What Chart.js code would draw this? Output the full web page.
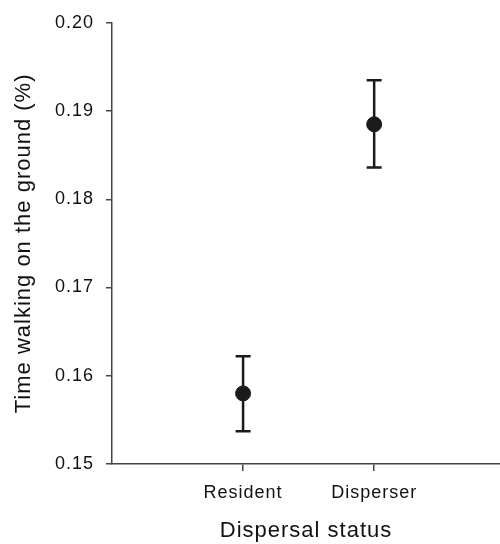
<!DOCTYPE html>
<html>
<head>
<meta charset="utf-8">
<script src="https://cdn.jsdelivr.net/npm/chart.js@4"></script>
<style>
  html, body { margin: 0; padding: 0; background: #fff; }
  #wrap { width: 500px; height: 544px; }
</style>
</head>
<body>
<div id="wrap"><canvas id="walkChart"></canvas></div>
<script>
const categories = ['Resident', 'Disperser'];
const means = [0.158, 0.1885];
const upperErr = [0.1622, 0.1935];
const lowerErr = [0.1537, 0.1836];
const yTicks = [0.15, 0.16, 0.17, 0.18, 0.19, 0.20];

const ink = '#1a1a1a';
const textInk = '#111';

// draw the error bars with caps using the chart scales
const errorBars = {
    id: 'errorBars',
    beforeDatasetsDraw(chart) {
        const { ctx, scales: { x, y } } = chart;
        ctx.save();
        ctx.strokeStyle = ink;
        ctx.lineWidth = 2.5;
        categories.forEach((cat, i) => {
            const px = x.getPixelForValue(i + 1);
            const top = y.getPixelForValue(upperErr[i]);
            const bot = y.getPixelForValue(lowerErr[i]);
            ctx.beginPath();
            ctx.moveTo(px, top);
            ctx.lineTo(px, bot);
            ctx.moveTo(px - 7.5, top);
            ctx.lineTo(px + 7.5, top);
            ctx.moveTo(px - 7.5, bot);
            ctx.lineTo(px + 7.5, bot);
            ctx.stroke();
        });
        ctx.restore();
    }
};

// the reference text is set a little wide
const spacing = {
    id: 'spacing',
    beforeInit(chart) { chart.ctx.letterSpacing = '1px'; },
    beforeDraw(chart) { chart.ctx.letterSpacing = '1px'; }
};

const ctx = document.getElementById('walkChart').getContext('2d');

new Chart(ctx, {
    type: 'scatter',
    data: {
        datasets: [{
            data: means.map((m, i) => ({ x: i + 1, y: m })),
            backgroundColor: ink,
            borderColor: ink,
            pointRadius: 7.5,
            pointHoverRadius: 7.5
        }]
    },
    options: {
        responsive: true,
        maintainAspectRatio: false,
        animation: false,
        layout: { autoPadding: false, padding: { top: 18, right: 0, bottom: 0, left: 0 } },
        scales: {
            x: {
                type: 'linear',
                min: 0,
                max: 2.96,
                afterBuildTicks: (scale) => { scale.ticks = categories.map((c, i) => ({ value: i + 1 })); },
                afterFit: (scale) => { scale.height = 80; },
                border: { color: '#444', width: 1.5 },
                grid: { drawOnChartArea: false, tickLength: 7, color: '#444', lineWidth: 1.5 },
                ticks: {
                    padding: 11,
                    color: textInk,
                    font: { family: 'Liberation Sans', size: 18 },
                    callback: (v) => categories[v - 1] || ''
                },
                title: {
                    display: true,
                    text: 'Dispersal status',
                    color: textInk,
                    font: { family: 'Liberation Sans', size: 22 },
                    padding: { top: 0, bottom: 0 }
                }
            },
            y: {
                min: 0.15,
                max: 0.20,
                afterBuildTicks: (scale) => { scale.ticks = yTicks.map(v => ({ value: v })); },
                afterFit: (scale) => { scale.width = 112; },
                border: { color: '#444', width: 1.5 },
                grid: { drawOnChartArea: false, tickLength: 6, color: '#444', lineWidth: 1.5 },
                ticks: {
                    padding: 12,
                    color: textInk,
                    font: { family: 'Liberation Sans', size: 18 },
                    callback: (v) => v.toFixed(2)
                },
                title: {
                    display: true,
                    text: 'Time walking on the ground (%)',
                    color: textInk,
                    font: { family: 'Liberation Sans', size: 22 },
                    padding: { top: 11, bottom: 0 }
                }
            }
        },
        plugins: {
            legend: { display: false },
            tooltip: { enabled: false }
        }
    },
    plugins: [errorBars, spacing]
});
</script>
</body>
</html>
